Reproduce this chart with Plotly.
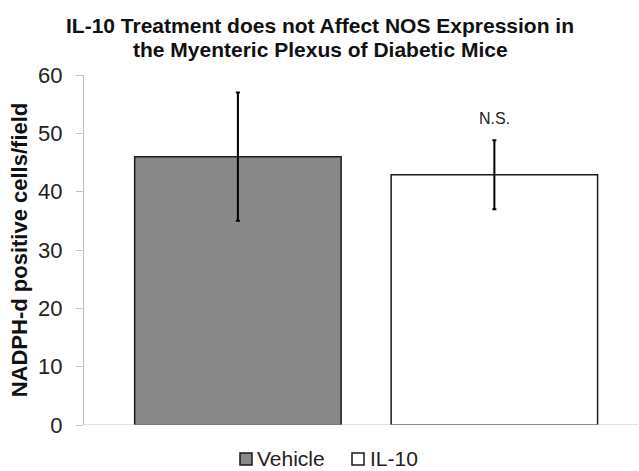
import plotly.graph_objects as go

categories = ["Vehicle", "IL-10"]
means = [46.0, 42.9]
errors = [11.0, 5.9]
colors = ["#888888", "#ffffff"]
annotation_text = "N.S."
annotation_y = 52.5
title_lines = ["IL-10 Treatment does not Affect NOS Expression in",
               "the Myenteric Plexus of Diabetic Mice"]
y_title = "NADPH-d positive cells/field"

W, H = 639, 471
L, R, T, B = 84, 1, 75, 46
PW, PH = W - L - R, H - T - B


def px_x(px):
    return (px - L) / PW


def px_y(py):
    return (H - B - py) / PH


FONT = "Liberation Sans, Arial"

fig = go.Figure()
for i, (cat, m, e, c) in enumerate(zip(categories, means, errors, colors)):
    fig.add_trace(go.Bar(
        x=[i], y=[m], name=cat, showlegend=False,
        marker=dict(color=c, line=dict(color="#1a1a1a", width=1.5)),
        error_y=dict(type="data", array=[e], color="black", thickness=2, width=2),
        width=0.805,
    ))

fig.add_annotation(x=1, y=annotation_y, text=annotation_text, showarrow=False,
                   font=dict(size=16, color="#222222", family=FONT))

# title lines
for line, py in zip(title_lines, [25, 49]):
    fig.add_annotation(xref="paper", yref="paper", x=px_x(320), y=px_y(py),
                       xanchor="center", yanchor="middle", showarrow=False,
                       text="<b>" + line + "</b>",
                       font=dict(size=21, color="#111111", family=FONT))

# custom legend
leg_items = [(240, 255), (352, 368)]
for (sx, tx), cat, c in zip(leg_items, categories, colors):
    fig.add_shape(type="rect", xref="paper", yref="paper",
                  x0=px_x(sx), x1=px_x(sx + 12), y0=px_y(465), y1=px_y(453),
                  fillcolor=c, line=dict(color="#1a1a1a", width=1.5))
    fig.add_annotation(xref="paper", yref="paper", x=px_x(tx), y=px_y(458),
                       xanchor="left", yanchor="middle", showarrow=False,
                       text=cat, font=dict(size=21, color="#222222", family=FONT))

fig.update_layout(
    width=W, height=H,
    margin=dict(l=L, r=R, t=T, b=B, autoexpand=False),
    plot_bgcolor="white", paper_bgcolor="white",
    font=dict(family=FONT, color="#222222"),
    showlegend=False,
    xaxis=dict(range=[-0.6, 1.56], showticklabels=False, showgrid=False, zeroline=False,
               showline=False, ticks=""),
    yaxis=dict(range=[0, 60], dtick=10, showgrid=False, zeroline=False,
               showline=True, linecolor="#c0c0c0", linewidth=1,
               ticks="outside", ticklen=7, tickcolor="#c0c0c0",
               ticklabelstandoff=9,
               tickfont=dict(size=22, color="#222222"),
               title=dict(text="<b>" + y_title + "</b>",
                          font=dict(size=22, color="#111111"), standoff=4)),
)
fig.add_shape(type="line", xref="paper", yref="y", x0=0, x1=1, y0=0, y1=0,
              line=dict(color="#c0c0c0", width=1))

fig.write_html("out.html")
